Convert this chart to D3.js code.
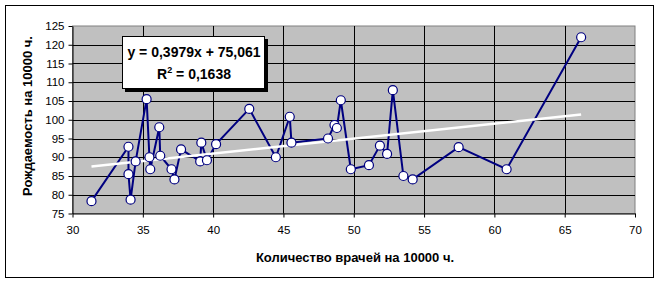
<!DOCTYPE html>
<html>
<head>
<meta charset="UTF-8">
<title>Рождаемость</title>
<script src="https://cdn.jsdelivr.net/npm/d3@7"></script>
<style>
  body { margin: 0; background: #fff; }
  text { font-family: Arial, "Liberation Sans", sans-serif; }
  .tick text { font-size: 11.5px; fill: #000; }
</style>
</head>
<body>
<script>
// data
var doctors = [31.35, 33.98, 33.98, 34.13, 34.49, 35.27, 35.47, 35.53, 36.17, 36.24,
               37.04, 37.25, 37.72, 39.08, 39.16, 39.56, 40.21, 42.57, 44.46, 45.45,
               45.57, 48.17, 48.63, 48.8, 49.08, 49.79, 51.08, 51.86, 52.37, 52.78,
               53.53, 54.19, 57.46, 60.87, 66.17];
var births = [78.3, 92.8, 85.5, 78.7, 88.9, 105.5, 90.0, 86.8, 98.0, 90.4,
              86.8, 84.1, 92.1, 88.9, 93.9, 89.2, 93.5, 102.9, 90.0, 100.8,
              93.9, 95.0, 98.6, 97.8, 105.2, 86.8, 87.9, 93.1, 90.9, 107.9,
              85.0, 84.1, 92.7, 86.8, 122.0];
var xTicks = [30, 35, 40, 45, 50, 55, 60, 65, 70];
var yTicks = [75, 80, 85, 90, 95, 100, 105, 110, 115, 120, 125];
var slope = 0.3979, intercept = 75.061;
var eqText = "y = 0,3979x + 75,061";
var r2Text = "0,1638";

var W = 660, H = 284;
var svg = d3.select("body").append("svg").attr("width", W).attr("height", H);

// chart area frame
svg.append("rect").attr("x", 5.5).attr("y", 5.5).attr("width", 648).attr("height", 272)
   .attr("fill", "#fff").attr("stroke", "#000").attr("stroke-width", 1);

var x = d3.scaleLinear().domain([30, 70]).range([72.5, 635]);
var y = d3.scaleLinear().domain([75, 125]).range([213.5, 26]);

// plot area
svg.append("rect").attr("x", x(30)).attr("y", y(125))
   .attr("width", x(70) - x(30)).attr("height", y(75) - y(125))
   .attr("fill", "#c0c0c0").attr("stroke", "#808080");

// grid
svg.append("g").selectAll("line").data(yTicks.slice(1, -1)).join("line")
   .attr("x1", x(30)).attr("x2", x(70))
   .attr("y1", function(d){ return Math.round(y(d)) + 0.5; })
   .attr("y2", function(d){ return Math.round(y(d)) + 0.5; })
   .attr("stroke", "#000");
svg.append("g").selectAll("line").data(xTicks.slice(1, -1)).join("line")
   .attr("y1", y(125)).attr("y2", y(75))
   .attr("x1", function(d){ return Math.round(x(d)) + 0.5; })
   .attr("x2", function(d){ return Math.round(x(d)) + 0.5; })
   .attr("stroke", "#000");

// axes
var xAxis = d3.axisBottom(x).tickValues(xTicks).tickSize(4).tickPadding(8).tickSizeOuter(0);
var yAxis = d3.axisLeft(y).tickValues(yTicks).tickSize(4).tickPadding(4).tickSizeOuter(0);
svg.append("g").attr("transform", "translate(0," + y(75) + ")").call(xAxis)
   .call(function(g){ g.select(".domain").attr("stroke", "#000"); });
svg.append("g").attr("transform", "translate(" + x(30) + ",0)").call(yAxis)
   .call(function(g){ g.select(".domain").attr("stroke", "#000"); });

// series line + markers
var pts = doctors.map(function(d, i){ return [d, births[i]]; });
svg.append("path").datum(pts)
   .attr("fill", "none").attr("stroke", "#000080").attr("stroke-width", 2)
   .attr("d", d3.line().x(function(d){ return x(d[0]); }).y(function(d){ return y(d[1]); }));

// trend line
var x0 = d3.min(doctors), x1 = d3.max(doctors);
svg.append("line")
   .attr("x1", x(x0)).attr("y1", y(slope * x0 + intercept))
   .attr("x2", x(x1)).attr("y2", y(slope * x1 + intercept))
   .attr("stroke", "#fff").attr("stroke-width", 2.5);

svg.append("g").selectAll("circle").data(pts).join("circle")
   .attr("cx", function(d){ return x(d[0]); })
   .attr("cy", function(d){ return y(d[1]); })
   .attr("r", 4.5)
   .attr("fill", "#fff").attr("stroke", "#000080").attr("stroke-width", 1.2);

// equation box
var box = svg.append("g").attr("transform", "translate(122,36)");
box.append("rect").attr("x", 3).attr("y", 3).attr("width", 143).attr("height", 53).attr("fill", "#000");
box.append("rect").attr("x", 0.5).attr("y", 0.5).attr("width", 142).attr("height", 52)
   .attr("fill", "#fff").attr("stroke", "#000");
box.append("text").attr("x", 72).attr("y", 21).attr("text-anchor", "middle")
   .attr("font-size", 14).attr("font-weight", "bold").text(eqText);
var r2 = box.append("text").attr("x", 72).attr("y", 43).attr("text-anchor", "middle")
   .attr("font-size", 14).attr("font-weight", "bold");
r2.append("tspan").text("R");
r2.append("tspan").attr("dy", -6).attr("font-size", 9).text("2");
r2.append("tspan").attr("dy", 6).text(" = " + r2Text);

// axis titles
svg.append("text").attr("x", 355).attr("y", 262).attr("text-anchor", "middle")
   .attr("font-size", 13).attr("font-weight", "bold").text("Количество врачей на 10000 ч.");
svg.append("text").attr("transform", "translate(32,116) rotate(-90)").attr("text-anchor", "middle")
   .attr("font-size", 13).attr("font-weight", "bold").text("Рождаемость на 10000 ч.");
</script>
</body>
</html>
